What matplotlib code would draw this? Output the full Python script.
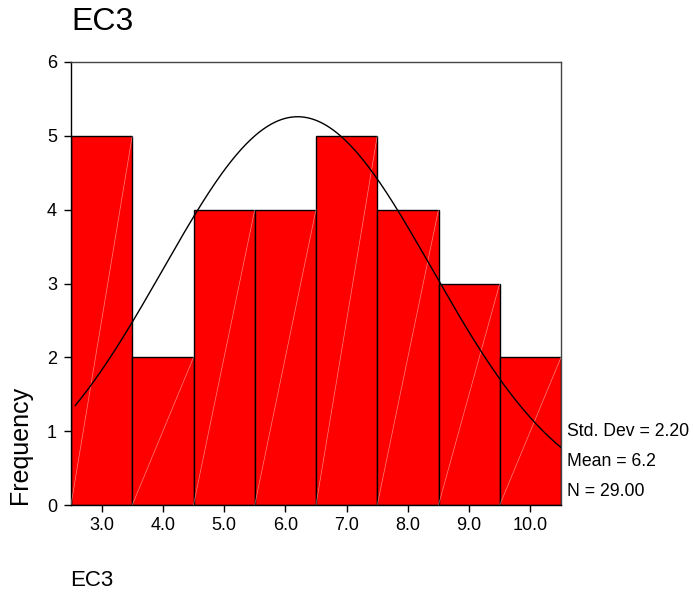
import numpy as np
import matplotlib
matplotlib.use("Agg")
import matplotlib.pyplot as plt

plt.rcParams['font.family'] = ['Liberation Sans', 'DejaVu Sans']

bin_centers = [3.0, 4.0, 5.0, 6.0, 7.0, 8.0, 9.0, 10.0]
counts = [5, 2, 4, 4, 5, 4, 3, 2]
tick_labels = ["3.0", "4.0", "5.0", "6.0", "7.0", "8.0", "9.0", "10.0"]
std_dev = 2.20
mean = 6.2
n_obs = 29
bin_width = 1.0

fig = plt.figure(figsize=(6.93, 5.92), dpi=100)
ax = fig.add_axes([71/693, 1 - 505/592, (561 - 71)/693, (505 - 62)/592])

ax.bar(bin_centers, counts, width=bin_width, color='#ff0000', edgecolor='black', linewidth=1.0, zorder=2)
# faint diagonal shading lines inside each bar
for c, h in zip(bin_centers, counts):
    ax.plot([c - bin_width/2, c + bin_width/2], [0, h], color='white', lw=0.5, alpha=0.5, zorder=3)

xs = np.linspace(2.57, 10.5, 300)
ys = n_obs * bin_width / (std_dev * np.sqrt(2 * np.pi)) * np.exp(-0.5 * ((xs - mean) / std_dev) ** 2)
ax.plot(xs, ys, color='black', lw=1.0, zorder=4)

ax.set_xlim(2.5, 10.5)
ax.set_ylim(0, 6)
ax.set_xticks(bin_centers)
ax.set_xticklabels(tick_labels)
ax.set_yticks(range(0, 7))
ax.tick_params(axis='both', direction='out', length=5, width=1, labelsize=13, color='black')
ax.tick_params(axis='x', pad=4)
ax.tick_params(axis='y', pad=5)
for s in ax.spines.values():
    s.set_linewidth(1.0)
    s.set_color('black')
ax.spines['top'].set_color('#444444')
ax.spines['right'].set_color('#444444')

fig.text(71/693, 1 - 22/592, "EC3", fontsize=23, ha='left', va='center')
fig.text(20/693, 1 - 445/592, "Frequency", fontsize=18, rotation=90, ha='center', va='center')
fig.text(70/693, 1 - 580/592, "EC3", fontsize=16, ha='left', va='center')

stats = [f"Std. Dev = {std_dev:.2f}", f"Mean = {mean:.1f}", f"N = {n_obs:.2f}"]
for i, t in enumerate(stats):
    fig.text(567/693, 1 - (431 + 30*i)/592, t, fontsize=12.7, ha='left', va='center')

fig.savefig("out.png", dpi=100)
